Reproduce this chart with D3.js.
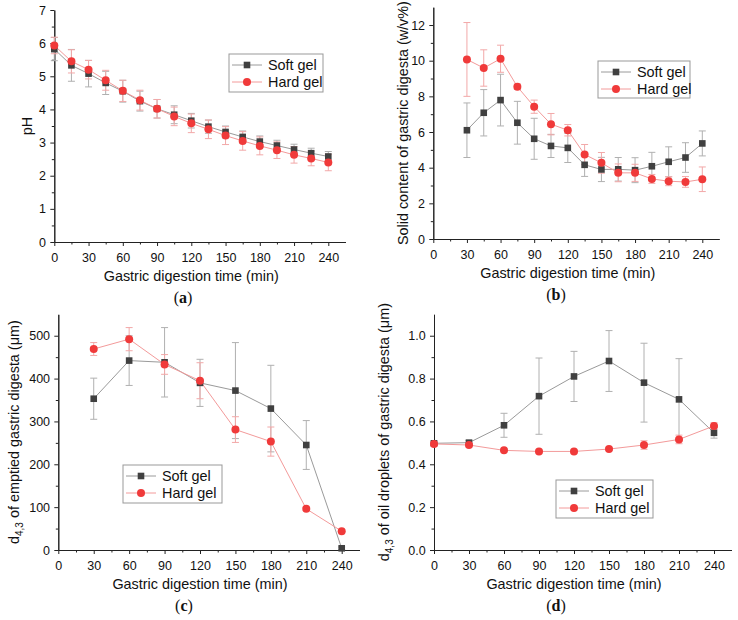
<!DOCTYPE html>
<html><head><meta charset="utf-8">
<script src="https://cdn.jsdelivr.net/npm/d3@7/dist/d3.min.js"></script>
<style>
body{margin:0;background:#fff;}
svg{display:block;font-family:"Liberation Sans",Arial,sans-serif;}
</style></head>
<body><svg id="c" width="738" height="620"></svg>
<script>
// ---------- DATA ----------
const seriesNames = ["Soft gel", "Hard gel"];
const xTickLabels = [0, 30, 60, 90, 120, 150, 180, 210, 240];

// (a) pH
const timeA = [0,15,30,45,60,75,90,105,120,135,150,165,180,195,210,225,240];
const phSoft    = [5.82,5.33,5.08,4.80,4.55,4.25,4.02,3.84,3.66,3.48,3.32,3.17,3.03,2.91,2.79,2.68,2.58];
const phSoftErr = [0.35,0.48,0.40,0.35,0.33,0.30,0.28,0.27,0.22,0.20,0.18,0.18,0.17,0.16,0.16,0.15,0.15];
const phHard    = [5.93,5.45,5.20,4.88,4.56,4.28,4.02,3.79,3.58,3.40,3.21,3.05,2.90,2.77,2.63,2.52,2.40];
const phHardErr = [0.25,0.35,0.28,0.30,0.32,0.30,0.28,0.28,0.28,0.28,0.27,0.28,0.27,0.25,0.25,0.22,0.25];
const yTicksA = [0,1,2,3,4,5,6,7];

// (b) solid content
const timeB = [30,45,60,75,90,105,120,135,150,165,180,195,210,225,240];
const solidSoft    = [6.10,7.08,7.79,6.52,5.62,5.22,5.11,4.16,3.90,3.91,3.86,4.08,4.33,4.57,5.36];
const solidSoftErr = [1.53,1.30,1.45,1.20,1.15,0.65,0.82,0.65,0.68,0.66,0.70,0.78,0.84,0.83,0.70];
const solidHard    = [10.07,9.59,10.11,8.54,7.42,6.44,6.10,4.74,4.27,3.71,3.71,3.37,3.24,3.20,3.35];
const solidHardErr = [2.07,1.02,0.76,0.15,0.37,0.60,0.32,0.56,0.58,0.50,0.48,0.25,0.25,0.30,0.69];
const yTicksB = [0,2,4,6,8,10,12];

// (c) d4,3 of emptied digesta
const timeC = [30,60,90,120,150,180,210,240];
const emptSoft    = [353,442,438,390,372,330,245,4];
const emptSoftErr = [48,58,81,55,112,101,57,3];
const emptHard    = [469,492,433,395,281,253,96,44];
const emptHardErr = [15,27,23,42,30,34,3,3];
const yTicksC = [0,100,200,300,400,500];

// (d) d4,3 of oil droplets
const timeD = [0,30,60,90,120,150,180,210,240];
const oilSoft    = [0.498,0.501,0.582,0.718,0.810,0.882,0.781,0.703,0.547];
const oilSoftErr = [0.010,0.010,0.056,0.178,0.117,0.142,0.184,0.190,0.025];
const oilHard    = [0.495,0.490,0.465,0.460,0.460,0.471,0.490,0.516,0.579];
const oilHardErr = [0.008,0.008,0.006,0.006,0.006,0.006,0.020,0.020,0.015];
const yTicksD = [0,0.2,0.4,0.6,0.8,1.0];

// ---------- STYLE ----------
const softMarker = "#404040", softLine = "#9a9a9a", softErr = "#b0b0b0";
const hardMarker = "#f03a3a", hardLine = "#f39a9a", hardErr = "#f2a8a8";

const svg = d3.select("#c");

function panel(o){
  const g = svg.append("g");
  const x = d3.scaleLinear().domain([0,255]).range([o.x0, o.x0 + 255*(o.x240-o.x0)/240]);
  const y = d3.scaleLinear().domain([0,o.ymax]).range([o.y0, o.ytop]);

  // axes
  const xAxis = d3.axisBottom(x).tickValues(xTickLabels).tickSize(4).tickSizeOuter(0).tickFormat(d3.format("d"));
  const xMinor = d3.axisBottom(x).tickValues(d3.range(15,255,30)).tickSize(2.5).tickFormat("").tickSizeOuter(0);
  const yAxis = d3.axisLeft(y).tickValues(o.yTicks).tickSize(4).tickSizeOuter(0).tickFormat(o.fmt);
  const yMinor = d3.axisLeft(y).tickValues(o.yMinor).tickSize(2.5).tickFormat("").tickSizeOuter(0);

  const gx = g.append("g").attr("transform",`translate(0,${o.y0})`).call(xAxis);
  g.append("g").attr("transform",`translate(0,${o.y0})`).call(xMinor);
  const gy = g.append("g").attr("transform",`translate(${o.x0},0)`).call(yAxis);
  g.append("g").attr("transform",`translate(${o.x0},0)`).call(yMinor);
  g.selectAll(".domain").attr("stroke","#222");
  g.selectAll(".tick line").attr("stroke","#222");
  g.selectAll(".tick text").attr("fill","#111").style("font-size","12.5px").style("font-family",'"Liberation Sans",Arial,sans-serif');
  gx.selectAll(".tick text").attr("dy","1.05em");
  gy.selectAll(".tick text").attr("dx","-0.1em");

  // axis titles
  g.append("text").attr("x",(o.x0+x(240))/2+ (o.titleShift||0)).attr("y",o.y0+39)
    .attr("text-anchor","middle").style("font-size","14.4px").attr("fill","#111")
    .text("Gastric digestion time (min)");
  const yl = g.append("text").attr("transform",`translate(${o.ylx},${(o.y0+o.ytop)/2+ (o.ylShift||0)}) rotate(-90)`)
    .attr("text-anchor","middle").attr("dy","0.35em").style("font-size","14.4px").attr("fill","#111");
  if(o.sub){
    yl.append("tspan").text("d");
    yl.append("tspan").text("4,3").attr("dy","4").style("font-size","10px");
    yl.append("tspan").text(o.ylabel).attr("dy","-4");
  } else yl.text(o.ylabel);

  // panel letter
  const pl = g.append("text").attr("x",o.lx).attr("y",o.y0+61).attr("text-anchor","middle")
    .style("font-family",'"Liberation Serif","DejaVu Serif",serif').style("font-size","16px").attr("fill","#111");
  pl.append("tspan").text("(");
  pl.append("tspan").text(o.letter).style("font-weight","bold");
  pl.append("tspan").text(")");

  const series = [
    {t:o.t, v:o.s, e:o.se, m:softMarker, l:softLine, ec:softErr, shape:"square"},
    {t:o.t, v:o.h, e:o.he, m:hardMarker, l:hardLine, ec:hardErr, shape:"circle"}
  ];
  // error bars
  series.forEach(s=>{
    const eg = g.append("g").attr("stroke",s.ec).attr("stroke-width",1);
    s.t.forEach((t,i)=>{
      const cx = x(t), y1 = y(s.v[i]+s.e[i]), y2 = y(s.v[i]-s.e[i]);
      eg.append("line").attr("x1",cx).attr("x2",cx).attr("y1",y1).attr("y2",y2);
      eg.append("line").attr("x1",cx-3.5).attr("x2",cx+3.5).attr("y1",y1).attr("y2",y1);
      eg.append("line").attr("x1",cx-3.5).attr("x2",cx+3.5).attr("y1",y2).attr("y2",y2);
    });
  });
  // lines
  series.forEach(s=>{
    g.append("path").datum(s.t.map((t,i)=>[t,s.v[i]]))
      .attr("fill","none").attr("stroke",s.l).attr("stroke-width",1)
      .attr("d",d3.line().x(d=>x(d[0])).y(d=>y(d[1])));
  });
  // markers
  series.forEach(s=>{
    s.t.forEach((t,i)=>{
      if(s.shape==="square") g.append("rect").attr("x",x(t)-3.3).attr("y",y(s.v[i])-3.3).attr("width",6.6).attr("height",6.6).attr("fill",s.m);
      else g.append("circle").attr("cx",x(t)).attr("cy",y(s.v[i])).attr("r",4).attr("fill",s.m);
    });
  });

  // legend
  const L = o.leg;
  const lg = g.append("g");
  lg.append("rect").attr("x",L.x).attr("y",L.y).attr("width",L.w).attr("height",L.h)
    .attr("fill","#fff").attr("stroke","#999").attr("stroke-width",1);
  [0,1].forEach(k=>{
    const cy = L.y + 11 + k*17;
    const s = series[k];
    lg.append("line").attr("x1",L.x+3).attr("x2",L.x+33).attr("y1",cy).attr("y2",cy).attr("stroke",s.l).attr("stroke-width",1);
    if(s.shape==="square") lg.append("rect").attr("x",L.x+18-3.3).attr("y",cy-3.3).attr("width",6.6).attr("height",6.6).attr("fill",s.m);
    else lg.append("circle").attr("cx",L.x+18).attr("cy",cy).attr("r",4).attr("fill",s.m);
    lg.append("text").attr("x",L.x+39).attr("y",cy).attr("dy","0.36em").style("font-size","14.4px").attr("fill","#111").text(seriesNames[k]);
  });
}

panel({x0:54.3, x240:328.3, y0:242, ytop:10, ymax:7, yTicks:yTicksA, yMinor:d3.range(0.5,7,1), fmt:d3.format("d"),
  t:timeA, s:phSoft, se:phSoftErr, h:phHard, he:phHardErr, ylabel:"pH", ylx:27, letter:"a", lx:183,
  leg:{x:229,y:54,w:94,h:38}});
panel({x0:433.3, x240:702.3, y0:239, ytop:7.2, ymax:13, yTicks:yTicksB, yMinor:d3.range(1,13,2), fmt:d3.format("d"),
  t:timeB, s:solidSoft, se:solidSoftErr, h:solidHard, he:solidHardErr, ylabel:"Solid content of gastric digesta (w/v%)", ylx:403, letter:"b", lx:556,
  leg:{x:598,y:61,w:92,h:37}});
panel({x0:58.3, x240:341.7, y0:550, ytop:314.3, ymax:550, yTicks:yTicksC, yMinor:d3.range(50,550,100), fmt:d3.format("d"),
  t:timeC, s:emptSoft, se:emptSoftErr, h:emptHard, he:emptHardErr, ylabel:" of emptied gastric digesta (μm)", sub:true, ylx:14, letter:"c", lx:184,
  leg:{x:123,y:465,w:99,h:38}});
panel({x0:434, x240:714, y0:550, ytop:314.3, ymax:1.1, yTicks:yTicksD, yMinor:d3.range(0.1,1.1,0.2), fmt:d3.format(".1f"),
  t:timeD, s:oilSoft, se:oilSoftErr, h:oilHard, he:oilHardErr, ylabel:" of oil droplets of gastric digesta (μm)", sub:true, ylx:384, letter:"d", lx:556,
  leg:{x:556,y:480,w:97,h:38}});
</script></body></html>
